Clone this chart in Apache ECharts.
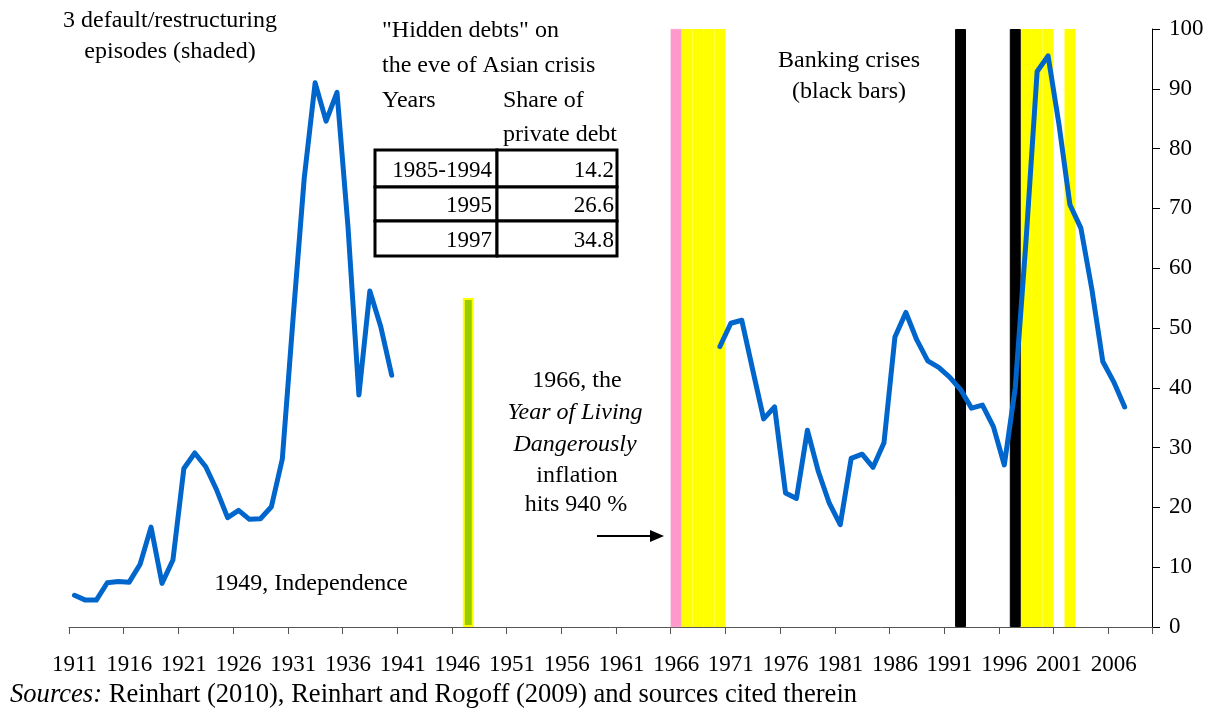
<!DOCTYPE html>
<html><head><meta charset="utf-8">
<script src="https://cdn.jsdelivr.net/npm/echarts@6/dist/echarts.min.js"></script>
<style>html,body{margin:0;padding:0;background:#fff}#c{width:1215px;height:709px}</style>
</head><body><div id="c"></div>
<script>
// ---- data ----
const firstYear = 1911, lastYear = 2009;
const years = [];
for (let y = firstYear; y <= lastYear; y++) years.push(String(y));

// debt series (per cent), segment 1911-1940
const debt1911to1940 = [5.3, 4.5, 4.5, 7.4, 7.6, 7.5, 10.5, 16.7, 7.3, 11.2,
  26.5, 29.1, 26.8, 22.9, 18.3, 19.5, 18.0, 18.1, 20.1, 28.1,
  52.0, 75.0, 91.0, 84.6, 89.4, 67.0, 38.8, 56.2, 50.2, 42.1];
// segment 1970-2007
const debt1970to2007 = [46.9, 50.8, 51.3, 43.0, 34.8, 36.8, 22.4, 21.5, 32.9, 26.0,
  20.7, 17.1, 28.2, 28.9, 26.7, 30.8, 48.5, 52.6, 48.0, 44.5,
  43.4, 41.8, 39.7, 36.6, 37.1, 33.5, 27.1, 40.0, 65.0, 92.9,
  95.5, 84.0, 70.6, 66.7, 56.5, 44.4, 41.0, 36.8];

const pinkYears = [1966];
const yellowYears = [1967, 1968, 1969, 1970, 1998, 1999, 2000, 2002];
const blackYears = [1992, 1997];
const greenYears = [1947];
const greenHeight = 55;
const shadeHeight = 100;

const tableYears = ['1985-1994', '1995', '1997'];
const tableShares = ['14.2', '26.6', '34.8'];

// ---- build ----
const lineData = years.map(s => {
  const y = +s;
  if (y >= 1911 && y <= 1940) return debt1911to1940[y - 1911];
  if (y >= 1970 && y <= 2007) return debt1970to2007[y - 1970];
  return null;
});
const shade = (list, h) => years.map(s => list.includes(+s) ? h : null);

const FONT = 'Liberation Serif';
const txt = (text, x, y, opts = {}) => ({
  type: 'text', x, y, silent: true, z: 100,
  style: Object.assign({ text, fill: '#000', font: `24px "${FONT}"`,
    textAlign: 'center', textVerticalAlign: 'middle' }, opts)
});

const graphics = [
  txt('3 default/restructuring', 170, 21),
  txt('episodes (shaded)', 170, 52),
  txt('"Hidden debts" on', 382, 31, { textAlign: 'left' }),
  txt('the eve of Asian crisis', 382, 66, { textAlign: 'left' }),
  txt('Years', 382, 101, { textAlign: 'left' }),
  txt('Share of', 503, 101, { textAlign: 'left' }),
  txt('private debt', 503, 135, { textAlign: 'left' }),
  txt('Banking crises', 849, 61),
  txt('(black bars)', 849, 92),
  txt('1966, the', 577, 381),
  txt('Year of Living', 575, 413, { font: `italic 24px "${FONT}"` }),
  txt('Dangerously', 575, 445, { font: `italic 24px "${FONT}"` }),
  txt('inflation', 577, 476),
  txt('hits 940 %', 576, 505),
  txt('1949, Independence', 311, 584),
  { type: 'line', silent: true, z: 100, shape: { x1: 597, y1: 536, x2: 652, y2: 536 },
    style: { stroke: '#000', lineWidth: 2 } },
  { type: 'polygon', silent: true, z: 100, shape: { points: [[664, 536], [650, 530], [650, 542]] },
    style: { fill: '#000' } },
  { type: 'text', x: 10, y: 695, silent: true, z: 100,
    style: { text: '{i|Sources:} Reinhart (2010), Reinhart and Rogoff (2009) and sources cited therein',
      fill: '#000', font: `26.6px "${FONT}"`, textVerticalAlign: 'middle',
      rich: { i: { fontStyle: 'italic', fontFamily: FONT, fontSize: 26.6 } } } }
];

// table
const colX = [375, 497, 617];
const rowY = [150, 187, 221, 256];
tableYears.forEach((yr, i) => {
  for (let c = 0; c < 2; c++) {
    graphics.push({ type: 'rect', silent: true, z: 90,
      shape: { x: colX[c], y: rowY[i], width: colX[c + 1] - colX[c], height: rowY[i + 1] - rowY[i] },
      style: { fill: '#fff', stroke: '#000', lineWidth: 3 } });
  }
  const cy = (rowY[i] + rowY[i + 1]) / 2 + 2;
  graphics.push(txt(yr, colX[1] - 5, cy, { textAlign: 'right', font: `23px "${FONT}"` }));
  graphics.push(txt(tableShares[i], colX[2] - 3, cy, { textAlign: 'right', font: `23px "${FONT}"` }));
});

const chart = echarts.init(document.getElementById('c'), null, { renderer: 'canvas' });
const barBase = { type: 'bar', barGap: '-100%', barCategoryGap: '0%', silent: true, z: 1 };
chart.setOption({
  animation: false,
  backgroundColor: '#fff',
  grid: { left: 69, right: 63, top: 29, bottom: 82, containLabel: false },
  xAxis: {
    type: 'category', data: years, boundaryGap: true,
    axisLine: { show: true, lineStyle: { color: '#555', width: 1 } },
    axisTick: { show: true, inside: false, alignWithLabel: false, interval: 4, length: 7, lineStyle: { color: '#555', width: 1 } },
    axisLabel: { show: true, interval: 4, margin: 26, fontFamily: FONT, fontSize: 23, color: '#000' },
    splitLine: { show: false }
  },
  yAxis: {
    type: 'value', position: 'right', min: 0, max: 100, interval: 10,
    axisLine: { show: true, lineStyle: { color: '#000', width: 1 } },
    axisTick: { show: true, inside: false, length: 8, lineStyle: { color: '#000', width: 1 } },
    axisLabel: { margin: 17, fontFamily: FONT, fontSize: 23, color: '#000' },
    splitLine: { show: false }
  },
  series: [
    Object.assign({}, barBase, { name: 'pink', data: shade(pinkYears, shadeHeight), itemStyle: { color: '#FF99CC', borderColor: '#FF99CC', borderWidth: 0.5 } }),
    Object.assign({}, barBase, { name: 'yellow', data: shade(yellowYears, shadeHeight), itemStyle: { color: '#FFFF00', borderColor: '#FFFF00', borderWidth: 1.5 } }),
    Object.assign({}, barBase, { name: 'black', data: shade(blackYears, shadeHeight), itemStyle: { color: '#000', borderColor: '#000', borderWidth: 1 } }),
    Object.assign({}, barBase, { name: 'green', data: shade(greenYears, greenHeight), itemStyle: { color: '#99CC00', borderColor: '#FFFF00', borderWidth: 2 } }),
    { type: 'line', name: 'debt', data: lineData, symbol: 'none', connectNulls: false, z: 10, silent: true,
      lineStyle: { color: '#0066CC', width: 5, join: 'round', cap: 'round' } }
  ],
  graphic: graphics
});
</script></body></html>
